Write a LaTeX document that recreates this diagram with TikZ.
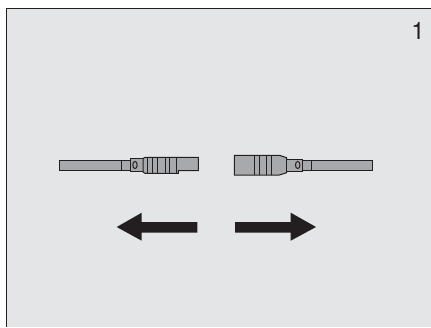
\documentclass[tikz,border=0pt]{standalone}
\usepackage{tikz}
\usepackage{xcolor}
\usepackage{fontspec}
\newfontfamily\numfont{TeX Gyre Heros}
\definecolor{panelbg}{HTML}{E4E5E7}
\definecolor{partgrey}{HTML}{A7A9AC}
\definecolor{inkdark}{HTML}{231F20}

\begin{document}
\begin{tikzpicture}[
    x=1pt,y=-1pt,
    part/.style={draw=inkdark,fill=partgrey,line width=1pt,line join=miter},
    rib/.style={draw=inkdark,line width=1pt},
    hole/.style={draw=inkdark,line width=1pt,fill=partgrey},
    bigarrow/.style={fill=inkdark,draw=none},
    numlabel/.style={font=\numfont\fontsize{24}{24}\selectfont,text=inkdark,inner sep=0pt}
  ]
    \useasboundingbox (0,0) rectangle (431,327);
    \fill[white] (0,0) rectangle (431,327);
    \fill[panelbg] (6.5,8) rectangle (431,327);
    \draw[inkdark,line width=1pt] (6.5,327) -- (6.5,8) -- (431,8);
    \node[numlabel] (number) at (418,31) {1};

    % left plug
    \draw[part] (59.5,160.7) rectangle (130,170.7);
    \draw[rib] (121.7,160.7) -- (121.7,170.7);
    \draw[part] (130,158.7) rectangle (143,171.7);
    \draw[hole] (135,165) ellipse (2.2 and 3.6);
    \draw[part] (143,158.5) -- (145,157.3) -- (198.3,157.3) -- (198.3,170.7) -- (178.3,170.7)
      -- (178.3,173.3) -- (145,173.3) -- (143,172) -- cycle;
    \foreach \ribx in {147.3,152.7,157.3,165,169.3,176.7} {
      \draw[rib] (\ribx,157.3) -- (\ribx,173.3);
    }

    % right plug
    \draw[part] (302.7,160) rectangle (372.7,170.3);
    \draw[rib] (311.7,160) -- (311.7,170.3);
    \draw[part] (234.3,155.3) -- (279.3,155.3) -- (286.7,157.7) -- (286.7,172.7)
      -- (279.3,175) -- (234.3,175) -- cycle;
    \draw[part] (286.7,159) rectangle (302.7,171.3);
    \draw[hole] (297.7,165) ellipse (2.2 and 3.6);
    \foreach \ribx in {254,259,266.7,271.7} {
      \draw[rib] (\ribx,155.3) -- (\ribx,175);
    }

    % arrows
    \fill[bigarrow] (116.7,227) -- (141.7,212.7) -- (141.7,222) -- (197.3,222)
      -- (197.3,232.7) -- (141.7,232.7) -- (141.7,240.7) -- cycle;
    \fill[bigarrow] (316,227) -- (290.7,212.7) -- (290.7,222) -- (235,222)
      -- (235,232.7) -- (290.7,232.7) -- (290.7,240.7) -- cycle;
  \end{tikzpicture}
\end{document}
